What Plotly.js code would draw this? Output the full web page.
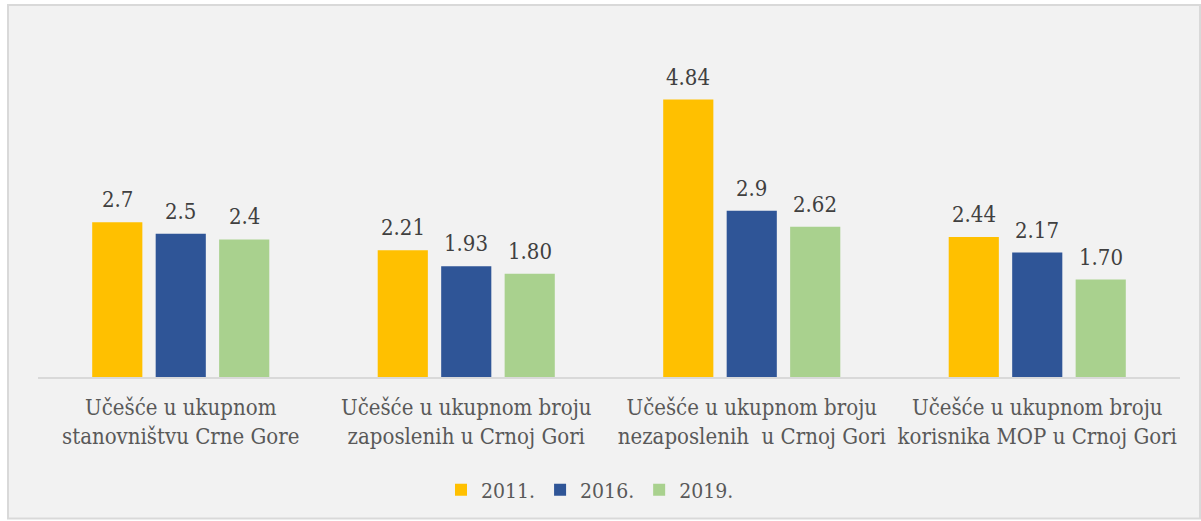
<!DOCTYPE html>
<html>
<head>
<meta charset="utf-8">
<script src="https://cdn.plot.ly/plotly-3.0.1.min.js"></script>
<style>html,body{margin:0;padding:0;background:#fff;}#chart{width:1201px;height:521px;}</style>
</head>
<body>
<div id="chart"></div>
<script>
const categories = [
  "Učešće u ukupnom<br>stanovništvu Crne Gore",
  "Učešće u ukupnom broju<br>zaposlenih u Crnoj Gori",
  "Učešće u ukupnom broju<br>nezaposlenih  u Crnoj Gori",
  "Učešće u ukupnom broju<br>korisnika MOP u Crnoj Gori"
];
const seriesNames = ["2011.", "2016.", "2019."];
const values2011 = [2.7, 2.21, 4.84, 2.44];
const values2016 = [2.5, 1.93, 2.9, 2.17];
const values2019 = [2.4, 1.80, 2.62, 1.70];
const labels2011 = ["2.7", "2.21", "4.84", "2.44"];
const labels2016 = ["2.5", "1.93", "2.9", "2.17"];
const labels2019 = ["2.4", "1.80", "2.62", "1.70"];
const colors = ["#FFC000", "#2F5597", "#A9D18E"];

const FONT = "'DejaVu Serif Condensed', 'DejaVu Serif', serif";
const allVals = [values2011, values2016, values2019];
const allLabels = [labels2011, labels2016, labels2019];

const L = 38, R = 21, T = 33, B = 143;
const W = 1201 - L - R, H = 521 - T - B;
const px = x => (x - L) / W;
const py = y => (521 - B - y) / H;

const bargap = 0.333, bargroupgap = 0.21;
const catW = W / categories.length;
const slotW = catW * (1 - bargap) / allVals.length;

const traces = allVals.map((v, i) => ({
  type: "bar",
  name: seriesNames[i],
  x: categories,
  y: v,
  marker: {color: colors[i]},
  hoverinfo: "skip"
}));

const annotations = [];
allVals.forEach((v, i) => {
  v.forEach((val, j) => {
    annotations.push({
      x: categories[j], y: val, xref: "x", yref: "y",
      text: allLabels[i][j], showarrow: false,
      xanchor: "center", yanchor: "bottom",
      xshift: (i - (allVals.length - 1) / 2) * slotW,
      yshift: 8,
      font: {family: FONT, size: 22, color: "#404040"}
    });
  });
});

const layout = {
  width: 1201, height: 521,
  margin: {l: L, r: R, t: T, b: B, pad: 0},
  paper_bgcolor: "#ffffff",
  plot_bgcolor: "rgba(0,0,0,0)",
  barmode: "group",
  bargap: bargap,
  bargroupgap: bargroupgap,
  showlegend: true,
  legend: {
    orientation: "h", x: px(590), xanchor: "center", y: py(490), yanchor: "middle",
    bgcolor: "rgba(0,0,0,0)",
    font: {family: FONT, size: 21, color: "#595959"},
    itemwidth: 30,
    traceorder: "normal"
  },
  xaxis: {
    showgrid: false, showline: true, linecolor: "#d9d9d9", linewidth: 2,
    ticks: "", ticklabelstandoff: 10,
    tickfont: {family: FONT, size: 22, color: "#595959"},
    fixedrange: true
  },
  yaxis: {
    range: [0, 6], showgrid: false, showline: false, zeroline: false,
    showticklabels: false, ticks: "", fixedrange: true
  },
  annotations: annotations,
  shapes: [{
    type: "rect", xref: "paper", yref: "paper", layer: "below",
    x0: px(8), x1: px(1200), y0: py(520), y1: py(5),
    fillcolor: "#f2f2f2", line: {color: "#d9d9d9", width: 2}
  }]
};

Plotly.newPlot("chart", traces, layout, {displayModeBar: false, staticPlot: true});
</script>
</body>
</html>
